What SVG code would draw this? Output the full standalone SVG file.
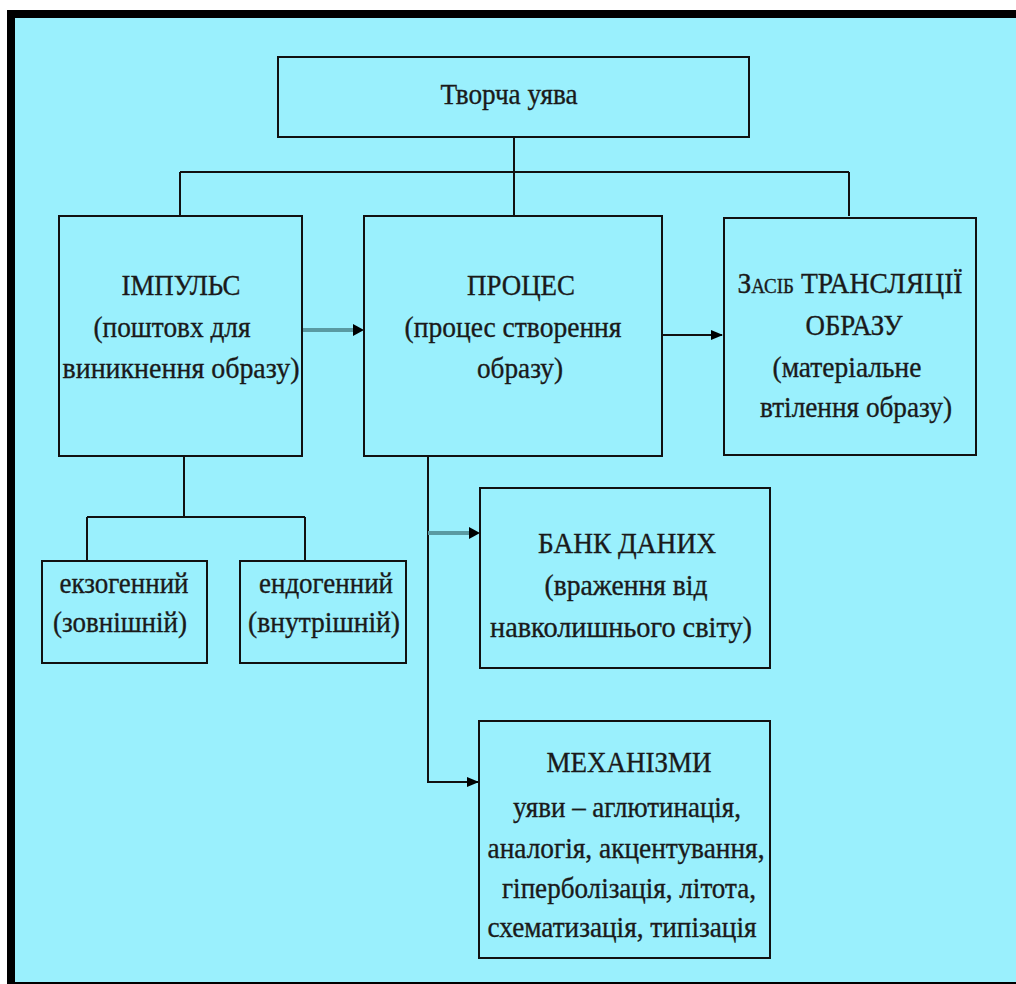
<svg xmlns="http://www.w3.org/2000/svg" width="1016" height="984" viewBox="0 0 1016 984">
<defs>
<style>
.box{fill:#9af0fd;stroke:#111;stroke-width:2}
.t{font-family:"Liberation Serif","Times New Roman",serif;font-size:29px;fill:#1a1a1a;stroke:#1a1a1a;stroke-width:0.35;text-anchor:middle}
.ln{fill:none;stroke:#111;stroke-width:2}
.gr{fill:none;stroke:#5a9aa2;stroke-width:4}
</style>
<marker id="ah" markerUnits="userSpaceOnUse" markerWidth="12" markerHeight="12" viewBox="0 0 12 12" refX="11" refY="6" orient="auto">
<path d="M0,1 L12,6 L0,11 Z" fill="#000"/>
</marker>
</defs>
<rect x="0" y="0" width="1016" height="984" fill="#fff"/>
<rect x="7" y="10" width="1009" height="974" fill="#000"/>
<rect x="15" y="18" width="1001" height="964" fill="#9af0fd"/>

<g id="connectors">
<path class="ln" d="M514,137 V172 M180,172 H849 M180,172 V216 M514,172 V216 M849,172 V216"/>
<line class="gr" x1="302" y1="330" x2="356" y2="330"/>
<path d="M353,324 L364,330 L353,336 Z" fill="#000"/>
<line class="ln" x1="662" y1="335" x2="722" y2="335" marker-end="url(#ah)"/>
<path class="ln" d="M184,456 V517 M87,517 H305 M87,517 V560 M305,517 V560"/>
<path class="ln" d="M428,456 V782 H478" marker-end="url(#ah)"/>
<line class="gr" x1="428" y1="533" x2="472" y2="533"/>
<path d="M469,527 L480,533 L469,539 Z" fill="#000"/>
</g>

<g id="node-top">
<rect class="box" x="278" y="57" width="471" height="80"/>
<text class="t" x="509" y="104" textLength="137" lengthAdjust="spacingAndGlyphs">Творча уява</text>
</g>

<g id="node-impuls">
<rect class="box" x="59" y="216" width="243" height="240"/>
<text class="t" x="181" y="295" textLength="119" lengthAdjust="spacingAndGlyphs">ІМПУЛЬС</text>
<text class="t" x="172" y="337" textLength="157" lengthAdjust="spacingAndGlyphs">(поштовх для</text>
<text class="t" x="181" y="378" textLength="237" lengthAdjust="spacingAndGlyphs">виникнення образу)</text>
</g>

<g id="node-proces">
<rect class="box" x="364" y="216" width="298" height="240"/>
<text class="t" x="521" y="295" textLength="108" lengthAdjust="spacingAndGlyphs">ПРОЦЕС</text>
<text class="t" x="513" y="337" textLength="217" lengthAdjust="spacingAndGlyphs">(процес створення</text>
<text class="t" x="520" y="378" textLength="86" lengthAdjust="spacingAndGlyphs">образу)</text>
</g>

<g id="node-zasib">
<rect class="box" x="724" y="218" width="252" height="237"/>
<text class="t" x="850" y="293" textLength="225" lengthAdjust="spacingAndGlyphs" font-variant="small-caps">Засіб ТРАНСЛЯЦІЇ</text>
<text class="t" x="854" y="335" textLength="97" lengthAdjust="spacingAndGlyphs">ОБРАЗУ</text>
<text class="t" x="847" y="377" textLength="149" lengthAdjust="spacingAndGlyphs">(матеріальне</text>
<text class="t" x="856" y="417" textLength="192" lengthAdjust="spacingAndGlyphs">втілення образу)</text>
</g>

<g id="node-ekzo">
<rect class="box" x="42" y="561" width="165" height="102"/>
<text class="t" x="124" y="593" textLength="129" lengthAdjust="spacingAndGlyphs">екзогенний</text>
<text class="t" x="120" y="632" textLength="134" lengthAdjust="spacingAndGlyphs">(зовнішній)</text>
</g>

<g id="node-endo">
<rect class="box" x="240" y="561" width="166" height="102"/>
<text class="t" x="326" y="593" textLength="134" lengthAdjust="spacingAndGlyphs">ендогенний</text>
<text class="t" x="324" y="632" textLength="152" lengthAdjust="spacingAndGlyphs">(внутрішній)</text>
</g>

<g id="node-bank">
<rect class="box" x="480" y="488" width="290" height="180"/>
<text class="t" x="627" y="553" textLength="178" lengthAdjust="spacingAndGlyphs">БАНК ДАНИХ</text>
<text class="t" x="626" y="595" textLength="163" lengthAdjust="spacingAndGlyphs">(враження від</text>
<text class="t" x="621" y="637" textLength="262" lengthAdjust="spacingAndGlyphs">навколишнього світу)</text>
</g>

<g id="node-mekh">
<rect class="box" x="479" y="721" width="291" height="237"/>
<text class="t" x="629" y="772" textLength="165" lengthAdjust="spacingAndGlyphs">МЕХАНІЗМИ</text>
<text class="t" x="627" y="817" textLength="228" lengthAdjust="spacingAndGlyphs">уяви – аглютинація,</text>
<text class="t" x="626" y="858" textLength="277" lengthAdjust="spacingAndGlyphs">аналогія, акцентування,</text>
<text class="t" x="629" y="898" textLength="254" lengthAdjust="spacingAndGlyphs">гіперболізація, літота,</text>
<text class="t" x="622" y="937" textLength="269" lengthAdjust="spacingAndGlyphs">схематизація, типізація</text>
</g>
</svg>
